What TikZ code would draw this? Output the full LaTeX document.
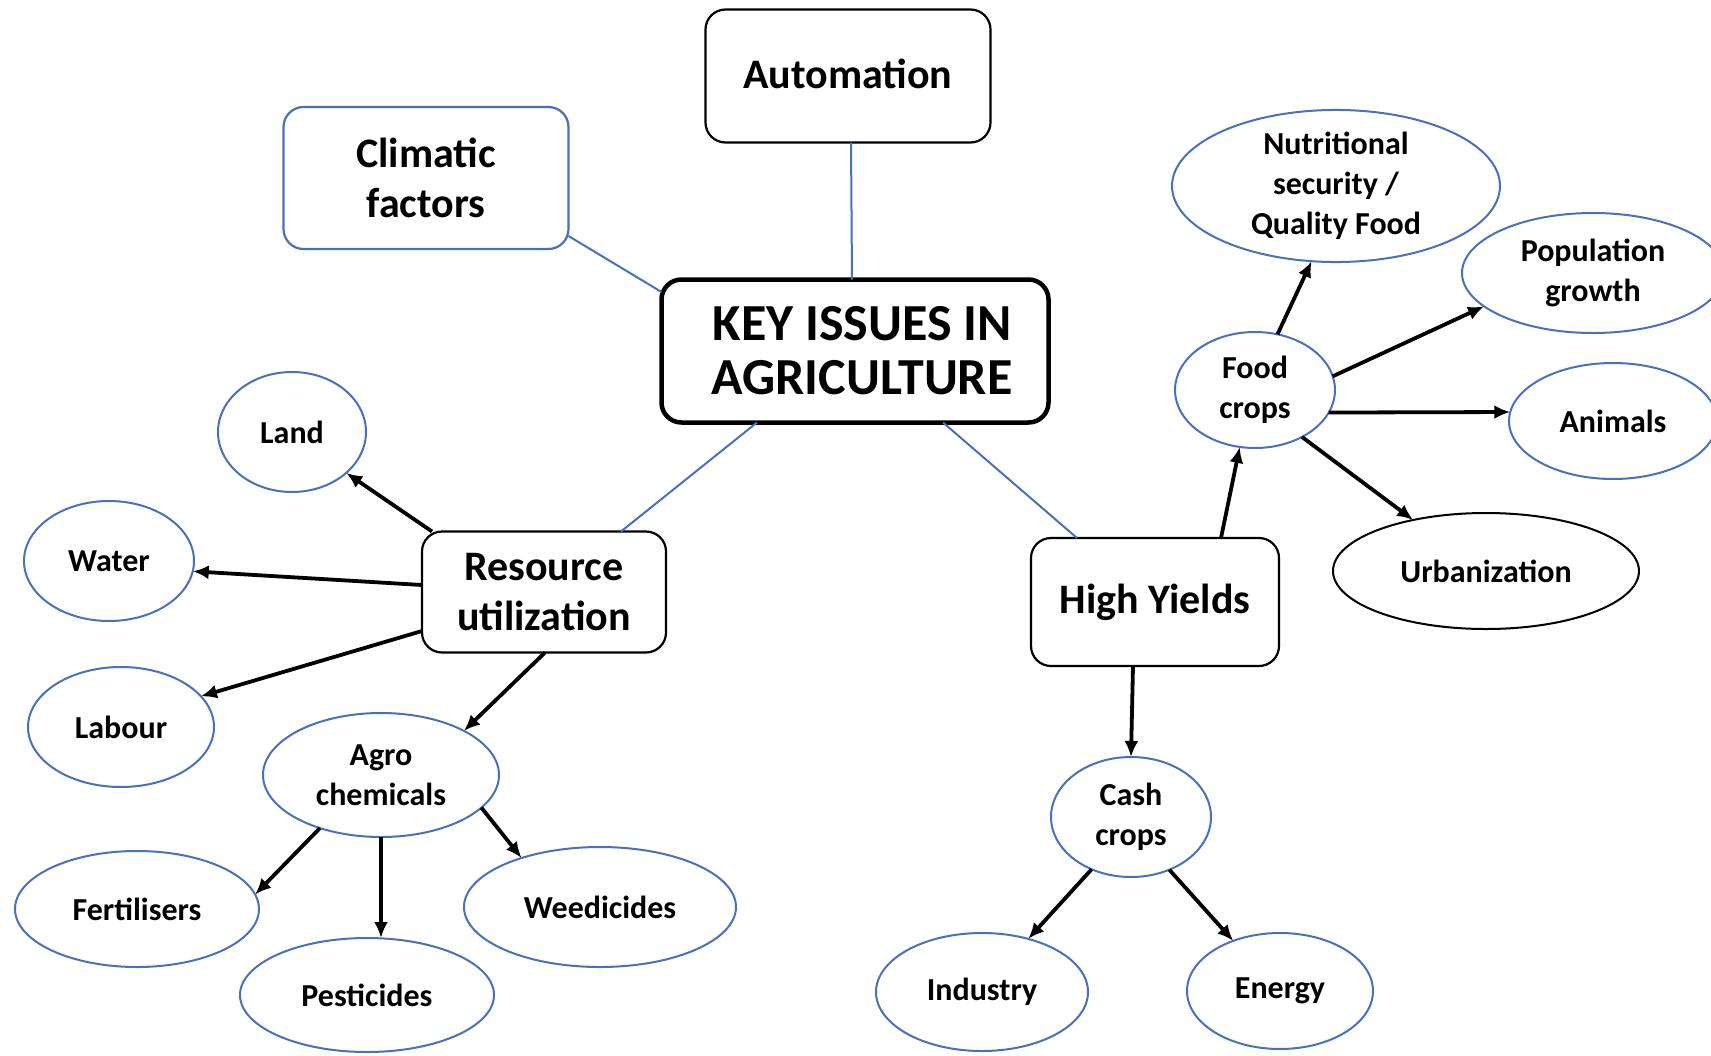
\documentclass[tikz,border=0pt]{standalone}
\usepackage{fontspec}
\setmainfont{Carlito}
\usetikzlibrary{shapes.geometric,arrows.meta}
\definecolor{obl}{HTML}{4A70BC}
\tikzset{
  box/.style={draw=black, line width=2.2pt, rounded corners=20pt, align=center, inner sep=0pt, outer sep=0pt, font=\bfseries\fontsize{42}{50}\selectfont},
  bluebox/.style={box, draw=obl},
  keybox/.style={box, line width=4.5pt, font=\bfseries\fontsize{52}{54}\selectfont},
  oval/.style={ellipse, draw=obl, line width=2pt, align=center, inner sep=0pt, outer sep=0pt, font=\bfseries\fontsize{32}{40}\selectfont},
  blackoval/.style={oval, draw=black},
  bline/.style={draw=obl, line width=2pt},
  arr/.style={draw=black, line width=3.8pt, -{Latex[length=16pt,width=14pt]}},
}
\begin{document}
\begin{tikzpicture}[x=1pt,y=-1pt]
\useasboundingbox[fill=white] (0,0) rectangle (1711,1055);
% boxes
\node[box, minimum width=285pt, minimum height=133pt] (auto) at (848,76) {\raisebox{4pt}{Automation}};
\node[bluebox, minimum width=285pt, minimum height=142pt] (clim) at (426,178) {Climatic\\factors};
\node[keybox, minimum width=387pt, minimum height=143pt] (key) at (855,351) {\hspace*{14pt}KEY ISSUES IN\\\hspace*{14pt}AGRICULTURE};
\node[box, minimum width=244pt, minimum height=121pt] (res) at (544,592) {Resource\\utilization};
\node[box, minimum width=248pt, minimum height=128pt] (hy) at (1155,602) {High Yields};
% ellipses
\node[oval, minimum width=148pt, minimum height=120pt] (land) at (292,432) {Land};
\node[oval, minimum width=170pt, minimum height=120pt] (water) at (109,561) {Water};
\node[oval, minimum width=186pt, minimum height=120pt] (labour) at (121,727) {Labour};
\node[oval, minimum width=236pt, minimum height=124pt] (agro) at (381,775) {Agro\\chemicals};
\node[oval, minimum width=244pt, minimum height=116pt] (fert) at (137,909) {Fertilisers};
\node[oval, minimum width=254pt, minimum height=114pt] (pest) at (367,995) {Pesticides};
\node[oval, minimum width=272pt, minimum height=120pt] (weed) at (600,907) {Weedicides};
\node[oval, minimum width=160pt, minimum height=120pt] (cash) at (1131,817) {Cash\\crops};
\node[oval, minimum width=212pt, minimum height=118pt] (ind) at (982,992) {Industry};
\node[oval, minimum width=186pt, minimum height=116pt] (energy) at (1280,991) {Energy};
\node[oval, minimum width=160pt, minimum height=116pt] (food) at (1255,390) {Food\\crops};
\node[oval, minimum width=328pt, minimum height=148pt] (nutr) at (1336,186) {Nutritional\\security /\\Quality Food};
\node[oval, minimum width=262pt, minimum height=120pt] (pop) at (1593,273) {Population\\growth};
\node[oval, minimum width=208pt, minimum height=116pt] (anim) at (1613,421) {Animals};
\node[blackoval, minimum width=306pt, minimum height=116pt] (urban) at (1486,571) {Urbanization};
% blue connectors
\draw[bline] ([xshift=3pt]auto.south) -- ([xshift=-3pt]key.north);
\draw[bline] ([yshift=-58pt]clim.east) -- ([yshift=59pt]key.west);
\draw[bline] ([xshift=-98pt]key.south) -- ([xshift=77pt]res.north);
\draw[bline] ([xshift=88pt]key.south) -- ([xshift=-78pt]hy.north);
% arrows
\draw[arr] ([xshift=10pt]res.north west) -- (land.-37);
\draw[arr] ([yshift=7pt]res.west) -- (water.-7);
\draw[arr] ([yshift=-39pt]res.west) -- (labour.21);
\draw[arr] ([xshift=1pt]res.south) -- (agro.28);
\draw[arr] (agro.-139) -- (fert.7);
\draw[arr] (agro.south) -- (agro.south |- pest.north);
\draw[arr] (agro.-18) -- (weed.148);
\draw[arr] ([xshift=-22pt]hy.south) -- (cash.north);
\draw[arr] (cash.-127) -- (ind.49);
\draw[arr] (cash.-54) -- (energy.133);
\draw[arr] ([xshift=66pt]hy.north) -- (food.-105);
\draw[arr] (food.68) -- (nutr.-108);
\draw[arr] (food.10) -- (pop.-163);
\draw[arr] (food.-17) -- (anim.175);
\draw[arr] (food.-45) -- (urban.145);
\end{tikzpicture}
\end{document}
